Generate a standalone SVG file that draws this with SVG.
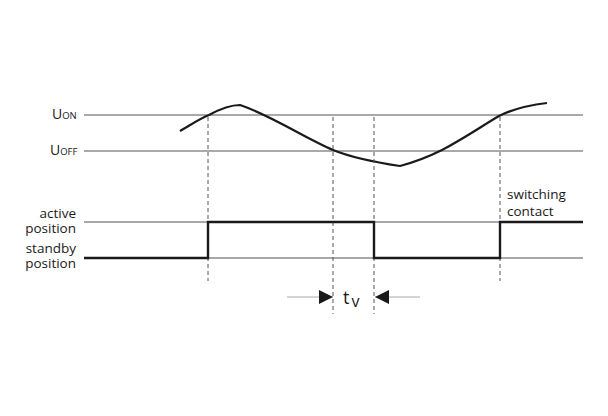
<svg xmlns="http://www.w3.org/2000/svg" width="608" height="416" viewBox="0 0 608 416">
<defs>
<style>
.ref{stroke:#8c8c8c;stroke-width:1.3;fill:none}
.dash{stroke:#555;stroke-width:1;stroke-dasharray:4,3;fill:none}
.sig{stroke:#1a1a1a;stroke-width:2.4;fill:none;stroke-linejoin:miter}
.curve{stroke:#1a1a1a;stroke-width:2.2;fill:none}
.thin{stroke:#aaa;stroke-width:1;fill:none}
.lbl{font-family:"Open Sans","Noto Sans",sans-serif;font-size:13.5px;fill:#1a1a1a;font-weight:500}
.u{font-family:"Open Sans","Noto Sans",sans-serif;font-size:14px;fill:#1a1a1a;font-weight:500}
.sub{font-size:9.5px}
</style>
<marker id="ah" viewBox="0 0 14 14" refX="14" refY="7" markerWidth="14" markerHeight="14" markerUnits="userSpaceOnUse" orient="auto">
<path d="M0,0 L14,7 L0,14 Z" fill="#1a1a1a"/>
</marker>
</defs>
<g id="reference-lines">
<line class="ref" x1="84" y1="115" x2="583" y2="115"/>
<line class="ref" x1="84" y1="151" x2="583" y2="151"/>
<line class="ref" x1="84" y1="222" x2="583" y2="222"/>
<line class="ref" x1="84" y1="258" x2="583" y2="258"/>
</g>
<g id="labels">
<text class="u" x="52" y="119">U<tspan class="sub">ON</tspan></text>
<text class="u" x="50" y="155">U<tspan class="sub">OFF</tspan></text>
<text class="lbl" x="76" y="218" text-anchor="end">active</text>
<text class="lbl" x="76" y="233" text-anchor="end">position</text>
<text class="lbl" x="76" y="253" text-anchor="end">standby</text>
<text class="lbl" x="76" y="268" text-anchor="end">position</text>
<text class="lbl" x="507" y="199">switching</text>
<text class="lbl" x="507" y="216">contact</text>
</g>
<g id="voltage-curve">
<path class="curve" d="M180,131 C192,124 201,118 209,115 C220,109 230,105 240,105 C270,115 305,138 333,150 C355,159 380,163 400,166 C415,162 430,156 442,150 C465,138 485,124 499,116 C515,108 530,105 547,103"/>
</g>
<g id="markers">
<line class="dash" x1="208" y1="117" x2="208" y2="281"/>
<line class="dash" x1="333" y1="117" x2="333" y2="314"/>
<line class="dash" x1="374" y1="117" x2="374" y2="314"/>
<line class="dash" x1="500" y1="117" x2="500" y2="281"/>
</g>
<g id="switching-signal">
<path class="sig" d="M84,258 H208 V222 H374 V258 H500 V222 H583"/>
</g>
<g id="connectors">
<line class="thin" x1="287" y1="297" x2="333" y2="297" marker-end="url(#ah)"/>
<line class="thin" x1="420" y1="297" x2="375" y2="297" marker-end="url(#ah)"/>
</g>
<g id="tv-label">
<text class="lbl" x="343" y="304" style="font-size:18px">t<tspan dx="2" dy="3" style="font-size:16px">v</tspan></text>
</g>
</svg>
